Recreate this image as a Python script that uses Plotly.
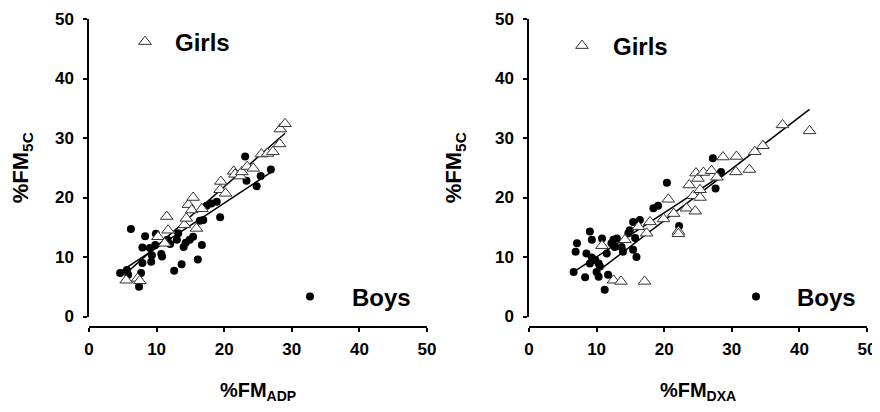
import plotly.graph_objects as go

# ---------------- data ----------------
adp_girls_x = [5.5, 7.2, 7.5, 10.2, 11.2, 11.5, 11.7, 14.1, 14.4, 14.7, 15.2, 15.4, 15.9, 16.7,
               19.4, 19.5, 20.2, 21.4, 21.6, 22.4, 22.6, 23.4, 24.3, 25.5, 26.4, 27.2, 28.2, 28.3, 29.0]
adp_girls_y = [6.1, 6.4, 6.0, 13.4, 12.3, 16.8, 14.5, 15.4, 16.5, 18.8, 17.9, 20.0, 14.8, 18.1,
               21.3, 22.7, 20.7, 24.4, 23.9, 23.6, 24.3, 25.2, 24.9, 27.3, 27.4, 27.7, 29.0, 31.5, 32.4]

adp_boys_x = [4.6, 5.6, 5.8, 6.2, 7.4, 7.7, 7.9, 7.9, 8.3, 9.0, 9.2, 9.3, 9.8, 9.9, 10.7, 10.8,
              11.6, 12.0, 12.6, 13.0, 13.2, 13.7, 14.0, 14.3, 14.9, 15.4, 16.1, 16.4, 16.7, 16.9,
              17.4, 18.1, 18.9, 19.4, 23.1, 23.3, 24.8, 25.4, 26.9]
adp_boys_y = [7.3, 7.8, 7.0, 14.7, 5.0, 7.3, 9.0, 11.6, 13.5, 11.5, 9.2, 10.3, 12.0, 13.9, 10.5, 10.1,
              12.9, 12.2, 7.7, 12.9, 14.0, 8.8, 11.7, 12.4, 12.9, 13.4, 9.6, 16.1, 12.0, 16.2,
              18.6, 19.0, 19.3, 16.7, 26.9, 22.8, 21.9, 23.6, 24.7]

dxa_girls_x = [10.8, 12.5, 13.6, 14.2, 16.2, 17.1, 17.4, 17.9, 19.9, 20.6, 21.4, 22.1, 22.1, 23.3,
               23.7, 24.3, 24.6, 24.7, 25.0, 25.3, 25.3, 25.8, 27.0, 27.8, 28.7, 30.6, 30.7, 32.6,
               33.4, 34.6, 37.5, 41.5]
dxa_girls_y = [11.9, 6.1, 5.9, 12.9, 15.1, 5.9, 14.0, 15.9, 16.4, 19.7, 17.3, 14.3, 13.9, 18.2,
               22.1, 20.3, 17.7, 24.1, 23.2, 21.3, 20.0, 24.2, 24.5, 23.4, 26.8, 24.3, 26.9, 24.7,
               27.7, 28.7, 32.2, 31.2]

dxa_boys_x = [6.6, 6.9, 7.1, 8.3, 8.5, 9.0, 9.0, 9.3, 9.3, 9.8, 10.0, 10.3, 10.3, 10.5, 10.8, 11.2,
              11.5, 11.7, 12.2, 12.5, 12.7, 13.0, 13.7, 13.9, 14.7, 14.9, 15.4, 15.4, 15.7, 15.9,
              16.4, 18.4, 19.1, 20.4, 22.2, 27.2, 27.6, 28.4]
dxa_boys_y = [7.5, 10.9, 12.3, 6.6, 10.6, 14.3, 8.9, 12.9, 9.9, 9.5, 7.5, 8.9, 6.7, 8.4, 13.1, 4.5,
              10.6, 7.0, 12.3, 12.9, 11.7, 13.1, 11.7, 10.9, 14.0, 14.5, 15.9, 11.2, 13.2, 10.0,
              16.2, 18.2, 18.6, 22.5, 15.2, 26.6, 21.5, 24.3]

# regression lines (end points)
adp_girls_fit_x = [5.5, 29.0]
adp_girls_fit_y = [7.3, 30.8]
adp_boys_fit_x = [4.6, 27.0]
adp_boys_fit_y = [7.5, 24.3]
dxa_girls_fit_x = [11.0, 41.5]
dxa_girls_fit_y = [8.3, 34.8]
dxa_boys_fit_x = [6.6, 27.8]
dxa_boys_fit_y = [7.5, 23.2]

tick_vals = [0, 10, 20, 30, 40, 50]

# ---------------- styling ----------------
FONT = "Liberation Sans, Arial, sans-serif"
girl_marker = dict(symbol="triangle-up", size=11, color="white",
                   line=dict(color="#333333", width=1))
boy_marker = dict(symbol="circle", size=8, color="black", line=dict(width=0))
fit_line = dict(color="black", width=1.5)

fig = go.Figure()

def add_panel(xa, ya, gx, gy, bx, by, gfx, gfy, bfx, bfy, leg_g, leg_b):
    fig.add_trace(go.Scatter(x=gfx, y=gfy, mode="lines", line=fit_line,
                             xaxis=xa, yaxis=ya, showlegend=False, hoverinfo="skip"))
    fig.add_trace(go.Scatter(x=bfx, y=bfy, mode="lines", line=fit_line,
                             xaxis=xa, yaxis=ya, showlegend=False, hoverinfo="skip"))
    fig.add_trace(go.Scatter(x=bx, y=by, mode="markers", marker=boy_marker, name="Boys",
                             xaxis=xa, yaxis=ya, legend=leg_b, showlegend=True))
    fig.add_trace(go.Scatter(x=gx, y=gy, mode="markers", marker=girl_marker, name="Girls",
                             xaxis=xa, yaxis=ya, legend=leg_g, showlegend=True))

add_panel("x", "y", adp_girls_x, adp_girls_y, adp_boys_x, adp_boys_y,
          adp_girls_fit_x, adp_girls_fit_y, adp_boys_fit_x, adp_boys_fit_y, "legend", "legend2")
add_panel("x2", "y2", dxa_girls_x, dxa_girls_y, dxa_boys_x, dxa_boys_y,
          dxa_girls_fit_x, dxa_girls_fit_y, dxa_boys_fit_x, dxa_boys_fit_y, "legend3", "legend4")

# page has an 8 px body margin: figure coordinates = page coordinates - 8
W, H = 872, 396
tickfont = dict(family=FONT, size=17, color="black", weight="bold")
xtitlefont = dict(family=FONT, size=20, color="black", weight="bold")
ytitlefont = dict(family=FONT, size=22, color="black", weight="bold")

def xaxis_cfg(dom, title, anchor):
    return dict(domain=dom, range=[0, 50], tickvals=tick_vals, showgrid=False, zeroline=False,
                showline=True, linecolor="black", linewidth=1.5, ticks="outside", ticklen=4,
                tickwidth=1.5, tickcolor="black", tickfont=tickfont, automargin=False,
                ticklabelstandoff=3,
                anchor="free", position=(H - 319) / H,
                title=dict(text=title, font=xtitlefont, standoff=25))

def yaxis_cfg(title, anchor):
    return dict(domain=[(H - 308.5) / H, (H - 11) / H], range=[0, 50], tickvals=tick_vals,
                showgrid=False, zeroline=False, anchor=anchor, automargin=False,
                showline=True, linecolor="black", linewidth=1.5, ticks="outside", ticklen=4,
                tickwidth=1.5, tickcolor="black", tickfont=tickfont,
                ticklabelstandoff=6,
                title=dict(text=title, font=ytitlefont, standoff=27))

legfont = dict(family=FONT, size=24, color="black", weight="bold")

def leg(x, y, w):
    return dict(x=x, y=y, xanchor="left", yanchor="middle", font=legfont,
                bgcolor="rgba(0,0,0,0)", borderwidth=0, itemwidth=w, itemclick=False)

fig.update_layout(
    width=W, height=H,
    margin=dict(l=0, r=0, t=0, b=0, autoexpand=False),
    paper_bgcolor="white", plot_bgcolor="white",
    xaxis=xaxis_cfg([81 / W, 419 / W], "%FM<sub>ADP</sub>", "y"),
    yaxis=yaxis_cfg("%FM<sub>5C</sub>", "x"),
    xaxis2=xaxis_cfg([521 / W, 859 / W], "%FM<sub>DXA</sub>", "y2"),
    yaxis2=yaxis_cfg("%FM<sub>5C</sub>", "x2"),
    legend=leg(107 / W, 1 - 34 / H, 50),
    legend2=leg(260 / W, 1 - 289 / H, 74),
    legend3=leg(543 / W, 1 - 38 / H, 52),
    legend4=leg(707 / W, 1 - 289 / H, 72),
    showlegend=True,
)

fig.write_html("out.html")
